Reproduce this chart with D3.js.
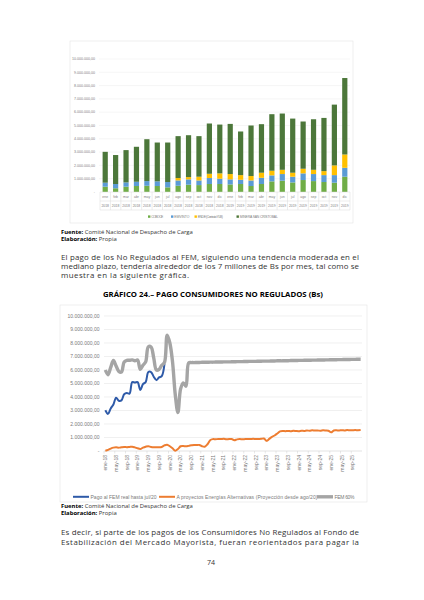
<!DOCTYPE html>
<html>
<head>
<meta charset="utf-8">
<script src="https://cdn.jsdelivr.net/npm/d3@7"></script>
<style>
  body { margin: 0; background: #fff; }
  svg { display: block; }
</style>
</head>
<body>
<svg id="page"></svg>
<script>
// ---- data: grafico de barras (Bs, millones) ----
const meses = ["ene","feb","mar","abr","may","jun","jul","ago","sep","oct","nov","dic"];
const anios1 = ["2018","2019"];
const cobo = [0.40,0.28,0.40,0.45,0.47,0.45,0.35,0.47,0.55,0.52,0.60,0.60,0.57,0.60,0.45,0.60,0.80,0.85,0.72,0.90,0.82,0.75,0.70,1.15];
const emvinto = [0.30,0.32,0.32,0.32,0.35,0.35,0.40,0.40,0.40,0.35,0.45,0.40,0.38,0.32,0.42,0.47,0.45,0.50,0.43,0.50,0.53,0.52,0.57,0.67];
const ende = [0,0,0,0,0,0,0,0.18,0.17,0.28,0.32,0.40,0.40,0.35,0.33,0.38,0.35,0.32,0.30,0.35,0.32,0.30,0.73,1.00];
const minera = [2.32,2.18,2.43,2.63,3.15,2.92,2.97,3.15,3.15,3.05,3.78,3.67,3.77,3.28,3.80,3.65,4.25,4.23,4.07,3.55,3.80,4.00,4.57,5.75];
const series1 = ["COBOCE","EMVINTO","ENDE (Contrato YLB)","MINERA SAN CRISTOBAL"];

// ---- data: grafico 24 (Bs, millones, mensual ene-18 .. dic-25) ----
const mesesLinea = ["ene","feb","mar","abr","may","jun","jul","ago","sep","oct","nov","dic"];
const anios2 = ["18","19","20","21","22","23","24","25"];
const pagoReal = [3.02,2.75,3.15,3.45,3.95,3.72,3.75,4.20,4.30,4.25,5.10,5.07,5.10,4.52,4.95,5.10,5.85,5.85,5.50,5.25,5.45,5.55,6.45];
const proyectos = [0.02,0.08,0.18,0.25,0.27,0.25,0.28,0.30,0.28,0.30,
  0.32,0.27,0.20,0.15,0.25,0.32,0.36,0.30,0.27,0.28,
  0.27,0.30,0.42,0.47,0.35,0.20,0.02,0.15,0.35,0.37,
  0.35,0.38,0.42,0.45,0.44,0.45,0.35,0.32,0.50,0.80,
  0.88,0.87,0.89,0.88,0.90,0.87,0.88,0.89,0.80,0.86,
  0.88,0.87,0.88,0.89,0.88,0.90,0.88,0.89,0.90,0.93,
  0.75,0.90,1.05,1.15,1.30,1.45,1.48,1.47,1.49,1.46,
  1.50,1.48,1.47,1.50,1.49,1.52,1.50,1.53,1.51,1.52,
  1.50,1.53,1.52,1.50,1.38,1.52,1.53,1.52,1.54,1.52,
  1.55,1.53,1.54,1.55,1.54,1.55];
const fem60 = [6.00,5.65,6.20,6.70,6.30,5.90,5.85,6.60,6.72,6.72,
  6.75,6.68,6.74,6.05,6.35,6.60,7.72,7.70,6.90,6.00,
  6.05,6.35,6.55,8.58,8.00,6.60,4.20,2.85,4.60,5.05,
  4.80,6.52,6.55,6.55,6.56,6.56,6.57,6.57,6.57,6.58,
  6.58,6.59,6.59,6.59,6.60,6.60,6.60,6.61,6.61,6.62,
  6.62,6.62,6.63,6.63,6.64,6.64,6.64,6.65,6.65,6.66,
  6.66,6.66,6.67,6.67,6.68,6.68,6.68,6.69,6.69,6.70,
  6.70,6.70,6.71,6.71,6.72,6.72,6.72,6.73,6.73,6.74,
  6.74,6.74,6.75,6.75,6.76,6.76,6.76,6.77,6.77,6.78,
  6.78,6.78,6.79,6.79,6.80,6.80];
const series2 = ["Pago al FEM real hasta jul/20","A proyectos Energías Alternativas (Proyección desde ago/20)","FEM 60%"];
const yTicks = [0,1,2,3,4,5,6,7,8,9,10];

const W = 424, H = 600;
const svg = d3.select("#page").attr("width", W).attr("height", H);
svg.append("rect").attr("width", W).attr("height", H).attr("fill", "#fff");

const loc = d3.formatLocale({decimal: ",", thousands: ".", grouping: [3], currency: ["", ""]});
const fmt = loc.format(",.2f");
const tickLabel = v => v === 0 ? "-" : fmt(v * 1e6);
const chartFont = "Liberation Sans, Arial, sans-serif";
const bodyFont = "Open Sans, sans-serif";

// ================= grafico 1: barras apiladas =================
const g1 = svg.append("g");
g1.append("rect").attr("x", 70).attr("y", 41).attr("width", 283).attr("height", 182)
  .attr("fill", "none").attr("stroke", "#e3e3e3").attr("stroke-width", 0.6);

const cats1 = anios1.flatMap(a => meses.map(m => m + " " + a));
const x1 = d3.scaleBand().domain(cats1).range([100, 350]).paddingInner(0.5).paddingOuter(0.25);
const y1 = d3.scaleLinear().domain([0, 10]).range([192, 59]);

g1.selectAll("line.grid").data(yTicks.slice(1)).join("line")
  .attr("x1", 99).attr("x2", 350).attr("y1", d => y1(d)).attr("y2", d => y1(d))
  .attr("stroke", "#ececec").attr("stroke-width", 0.5);
g1.selectAll("text.yl").data(yTicks).join("text")
  .attr("x", 95).attr("y", d => y1(d) + 1.2).attr("text-anchor", "end")
  .attr("font-family", chartFont).attr("font-size", 3.6).attr("fill", "#808080")
  .text(tickLabel);

const rows1 = cats1.map((c, i) => ({cat: c, s0: cobo[i], s1: emvinto[i], s2: ende[i], s3: minera[i]}));
const stack1 = d3.stack().keys(["s0", "s1", "s2", "s3"])(rows1);
const colors1 = ["#70ad47", "#5b9bd5", "#ffc000", "#4c773a"];
g1.selectAll("g.layer").data(stack1).join("g").attr("fill", (d, i) => colors1[i])
  .selectAll("rect").data(d => d).join("rect")
  .attr("x", d => x1(d.data.cat)).attr("width", x1.bandwidth())
  .attr("y", d => y1(d[1])).attr("height", d => y1(d[0]) - y1(d[1]));

// tabla de categorias
const step1 = x1.step();
const b0 = x1(cats1[0]) + x1.bandwidth() / 2 - step1 / 2;
[192, 201, 210].forEach(yy => g1.append("line").attr("x1", b0).attr("x2", b0 + step1 * 24)
  .attr("y1", yy).attr("y2", yy).attr("stroke", "#d9d9d9").attr("stroke-width", 0.5));
g1.selectAll("line.sep").data(d3.range(25)).join("line")
  .attr("x1", i => b0 + i * step1).attr("x2", i => b0 + i * step1)
  .attr("y1", 192).attr("y2", 210).attr("stroke", "#d9d9d9").attr("stroke-width", 0.5);
g1.selectAll("text.mes").data(cats1).join("text")
  .attr("x", d => x1(d) + x1.bandwidth() / 2).attr("y", 198.3).attr("text-anchor", "middle")
  .attr("font-family", chartFont).attr("font-size", 3.4).attr("fill", "#808080")
  .text(d => d.split(" ")[0]);
g1.selectAll("text.anio").data(cats1).join("text")
  .attr("x", d => x1(d) + x1.bandwidth() / 2).attr("y", 207.3).attr("text-anchor", "middle")
  .attr("font-family", chartFont).attr("font-size", 3.4).attr("fill", "#808080")
  .text(d => d.split(" ")[1]);

// leyenda grafico 1
const leg1x = [148, 171, 194.5, 236.5];
const leg1w = [12, 15, 25, 38];
series1.forEach((s, i) => {
  g1.append("rect").attr("x", leg1x[i]).attr("y", 215.4).attr("width", 2.4).attr("height", 2.4).attr("fill", colors1[i]);
  g1.append("text").attr("x", leg1x[i] + 3.3).attr("y", 218).attr("font-family", chartFont)
    .attr("font-size", 3.4).attr("fill", "#808080").attr("textLength", leg1w[i]).text(s);
});

// ================= textos del documento =================
function txt(x, y, size, str, opts = {}) {
  const t = svg.append("text").attr("x", x).attr("y", y).attr("font-family", opts.font || bodyFont)
    .attr("font-size", size).attr("fill", opts.fill || "#333").text(str);
  if (opts.bold) t.attr("font-weight", "bold");
  if (opts.len) t.attr("textLength", opts.len).attr("lengthAdjust", opts.squeeze ? "spacingAndGlyphs" : "spacing");
  if (opts.anchor) t.attr("text-anchor", opts.anchor);
  return t;
}
function nota(y, label, rest) {
  const t = svg.append("text").attr("x", 61).attr("y", y).attr("font-family", bodyFont)
    .attr("font-size", 5.9).attr("fill", "#333");
  t.append("tspan").attr("font-weight", "bold").attr("fill", "#000").text(label);
  t.append("tspan").text(" " + rest);
}
function fuente(y) {
  nota(y, "Fuente:", "Comité Nacional de Despacho de Carga");
  nota(y + 7.3, "Elaboración:", "Propia");
}
fuente(233.6);
txt(61, 259.6, 7.9, "El pago de los No Regulados al FEM, siguiendo una tendencia moderada en el", {len: 298});
txt(61, 269.0, 7.9, "mediano plazo, tendería alrededor de los 7 millones de Bs por mes, tal como se", {len: 298});
txt(61, 278.4, 7.9, "muestra en la siguiente gráfica.", {len: 128});
txt(103, 296.6, 7.2, "GRÁFICO 24.– PAGO CONSUMIDORES NO REGULADOS (Bs)", {bold: true, len: 220, squeeze: true, fill: "#000"});

// ================= grafico 2: lineas =================
const g2 = svg.append("g");
g2.append("rect").attr("x", 60).attr("y", 305).attr("width", 307).attr("height", 197)
  .attr("fill", "none").attr("stroke", "#e3e3e3").attr("stroke-width", 0.6);

const cats2 = anios2.flatMap(a => mesesLinea.map(m => m + "-" + a));
const x2 = d3.scaleBand().domain(cats2).range([104, 362]);
const cx = i => x2(cats2[i]) + x2.bandwidth() / 2;
const y2 = d3.scaleLinear().domain([0, 10]).range([451, 316]);

g2.selectAll("line.grid").data(yTicks.slice(1)).join("line")
  .attr("x1", 104).attr("x2", 362).attr("y1", d => y2(d)).attr("y2", d => y2(d))
  .attr("stroke", "#e6e6e6").attr("stroke-width", 0.6);
g2.append("line").attr("x1", 104).attr("x2", 362).attr("y1", y2(0)).attr("y2", y2(0))
  .attr("stroke", "#d0d0d0").attr("stroke-width", 0.6);
g2.selectAll("text.yl").data(yTicks).join("text")
  .attr("x", 99.5).attr("y", d => y2(d) + 1.7).attr("text-anchor", "end")
  .attr("font-family", chartFont).attr("font-size", 5).attr("fill", "#7a7a7a")
  .text(tickLabel);

const shown = cats2.filter((c, i) => i % 4 === 0);
g2.selectAll("line.tick").data(shown).join("line")
  .attr("x1", d => x2(d)).attr("x2", d => x2(d)).attr("y1", 451).attr("y2", 453.5)
  .attr("stroke", "#d0d0d0").attr("stroke-width", 0.5);
g2.selectAll("text.xl").data(shown).join("text")
  .attr("transform", d => `translate(${x2(d) + x2.bandwidth() / 2 + 1.8},455) rotate(-90)`)
  .attr("text-anchor", "end").attr("font-family", chartFont).attr("font-size", 5)
  .attr("fill", "#7a7a7a").text(d => d);

const colors2 = ["#2e5aa8", "#ed7d31", "#a5a5a5"];
const widths2 = [2, 2, 3.4];
const lineGen = d3.line().x((d, i) => cx(i)).y(d => y2(d)).curve(d3.curveCatmullRom.alpha(0.5));
[pagoReal, proyectos, fem60].forEach((vals, k) => {
  g2.append("path").attr("d", lineGen(vals)).attr("fill", "none")
    .attr("stroke", colors2[k]).attr("stroke-width", widths2[k]).attr("stroke-linejoin", "round");
});

// leyenda grafico 2
const leg2x = [73, 159, 317];
const leg2w = [66, 141, 20];
series2.forEach((s, i) => {
  g2.append("line").attr("x1", leg2x[i]).attr("x2", leg2x[i] + 16).attr("y1", 496.8).attr("y2", 496.8)
    .attr("stroke", colors2[i]).attr("stroke-width", widths2[i]);
  g2.append("text").attr("x", leg2x[i] + 17.5).attr("y", 498.6).attr("font-family", chartFont)
    .attr("font-size", 5).attr("fill", "#7a7a7a").attr("textLength", leg2w[i]).text(s);
});

fuente(508);
txt(61, 535, 7.9, "Es decir, si parte de los pagos de los Consumidores No Regulados al Fondo de", {len: 298});
txt(61, 544.6, 7.9, "Estabilización del Mercado Mayorista, fueran reorientados para pagar la", {len: 298});
txt(211, 564.5, 7, "74", {anchor: "middle"});
</script>
</body>
</html>
